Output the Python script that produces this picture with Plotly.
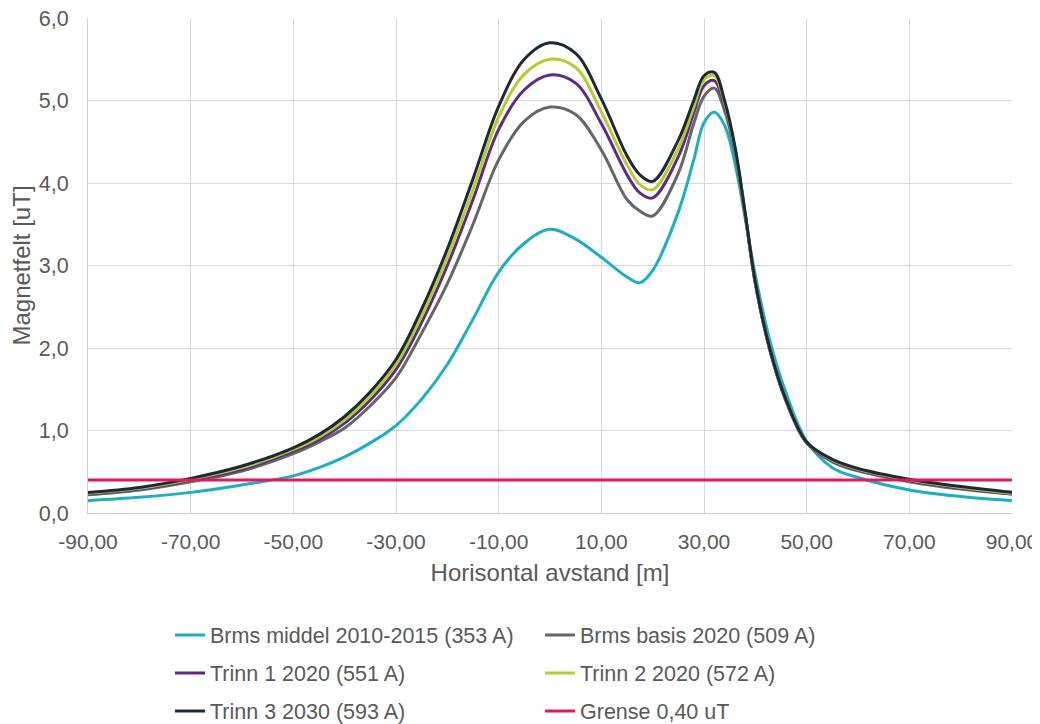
import plotly.graph_objects as go

# Horizontal distance [m]
x_m = [-90, -80, -70, -60, -50, -45, -40, -35, -30, -25, -20, -15, -10, -5, 0, 5, 10, 15, 17.5, 20, 25,
       28, 30, 32, 34, 36, 38, 40, 43, 46, 50, 55, 60, 70, 80, 90]

brms_middel = [0.15, 0.19, 0.25, 0.34, 0.45, 0.55, 0.68, 0.85, 1.06, 1.38, 1.80, 2.35, 2.92, 3.27, 3.44,
               3.32, 3.10, 2.86, 2.79, 2.94, 3.65, 4.28, 4.73, 4.86, 4.70, 4.25, 3.58, 2.88, 2.05, 1.45, 0.87,
               0.55, 0.43, 0.28, 0.20, 0.15]
brms_basis = [0.22, 0.28, 0.38, 0.51, 0.72, 0.86, 1.03, 1.30, 1.64, 2.18, 2.78, 3.50, 4.28, 4.75, 4.92,
              4.83, 4.40, 3.80, 3.66, 3.60, 4.12, 4.72, 5.05, 5.15, 4.88, 4.38, 3.62, 2.78, 1.93, 1.35, 0.85,
              0.62, 0.51, 0.38, 0.29, 0.23]
trinn1 = [0.23, 0.29, 0.40, 0.53, 0.75, 0.89, 1.09, 1.37, 1.74, 2.31, 3.00, 3.80, 4.65, 5.13, 5.31,
          5.21, 4.72, 4.10, 3.88, 3.82, 4.32, 4.85, 5.18, 5.24, 4.93, 4.42, 3.63, 2.79, 1.94, 1.36, 0.85,
          0.63, 0.52, 0.39, 0.30, 0.23]
trinn2 = [0.24, 0.30, 0.41, 0.55, 0.77, 0.92, 1.13, 1.42, 1.80, 2.39, 3.10, 3.92, 4.80, 5.32, 5.50,
          5.40, 4.86, 4.22, 3.98, 3.92, 4.42, 4.92, 5.25, 5.30, 4.97, 4.43, 3.64, 2.80, 1.95, 1.37, 0.86,
          0.64, 0.53, 0.40, 0.31, 0.24]
trinn3 = [0.25, 0.31, 0.42, 0.57, 0.79, 0.95, 1.17, 1.47, 1.86, 2.47, 3.20, 4.05, 4.93, 5.50, 5.70,
          5.57, 5.02, 4.33, 4.10, 4.02, 4.52, 5.00, 5.30, 5.34, 5.00, 4.45, 3.65, 2.80, 1.95, 1.37, 0.86,
          0.65, 0.54, 0.41, 0.32, 0.25]

grense_x = [-90, 90]
grense_y = [0.40, 0.40]

x_ticks = [-90, -70, -50, -30, -10, 10, 30, 50, 70, 90]
x_ticktext = ["-90,00", "-70,00", "-50,00", "-30,00", "-10,00", "10,00", "30,00", "50,00", "70,00", "90,00"]
y_ticks = [0, 1, 2, 3, 4, 5, 6]
y_ticktext = ["0,0", "1,0", "2,0", "3,0", "4,0", "5,0", "6,0"]

FONT = "Liberation Sans"
TXT = "#595959"

series = [
    ("Brms middel 2010-2015 (353 A)", x_m, brms_middel, "#1AAFC2", "legend"),
    ("Brms basis 2020 (509 A)", x_m, brms_basis, "#63666A", "legend"),
    ("Trinn 1 2020 (551 A)", x_m, trinn1, "#5E2A86", "legend2"),
    ("Trinn 2 2020 (572 A)", x_m, trinn2, "#B3CD2E", "legend2"),
    ("Trinn 3 2030 (593 A)", x_m, trinn3, "#1C2A38", "legend3"),
    ("Grense 0,40 uT", grense_x, grense_y, "#E3185C", "legend3"),
]

fig = go.Figure()
for name, xs, ys, col, lg in series:
    fig.add_trace(go.Scatter(
        x=xs, y=ys, name=name, mode="lines",
        line=dict(color=col, width=3, shape="spline" if len(xs) > 2 else "linear", smoothing=1.0),
        legend=lg,
    ))

# The page body adds an 8 px offset; figure coordinates = screen - 8
OFF = 8
W, H = 1040 - OFF, 724 - OFF
PLOT_TOP, PLOT_BOT, PLOT_L, PLOT_R = 18 - OFF, 513 - OFF, 88 - OFF, 1012 - OFF
paper_h = PLOT_BOT - PLOT_TOP


def ypos(py_screen):
    return (PLOT_BOT - (py_screen - OFF)) / paper_h


lx = 82 / (PLOT_R - PLOT_L)
leg_common = dict(orientation="h", xanchor="left", yanchor="middle", entrywidth=325,
                  font=dict(family=FONT, size=21.5, color=TXT), bgcolor="rgba(0,0,0,0)")

fig.update_layout(
    width=W, height=H,
    margin=dict(l=PLOT_L, r=W - PLOT_R, t=PLOT_TOP, b=H - PLOT_BOT, autoexpand=False),
    paper_bgcolor="white", plot_bgcolor="white",
    font=dict(family=FONT, size=21.5, color=TXT),
    showlegend=True,
    legend=dict(x=lx, y=ypos(635), **leg_common),
    legend2=dict(x=lx, y=ypos(673), **leg_common),
    legend3=dict(x=lx, y=ypos(711), **leg_common),
    xaxis=dict(
        range=[-90, 90], tickvals=x_ticks, ticktext=x_ticktext, automargin=False,
        showgrid=True, gridcolor="#D9D9D9", gridwidth=1,
        showline=True, linecolor="#CFCFCF", linewidth=1, zeroline=False,
        tickfont=dict(family=FONT, size=21, color=TXT), ticklabelstandoff=10,
        ticklabeloverflow="allow",
        title=dict(text="Horisontal avstand [m]", font=dict(family=FONT, size=24, color=TXT), standoff=11),
    ),
    yaxis=dict(
        range=[0, 6], tickvals=y_ticks, ticktext=y_ticktext, automargin=False,
        showgrid=True, gridcolor="#D9D9D9", gridwidth=1,
        showline=True, linecolor="#CFCFCF", linewidth=1, zeroline=False,
        tickfont=dict(family=FONT, size=21.5, color=TXT), ticklabelstandoff=14,
        ticklabeloverflow="allow",
        title=dict(text="Magnetfelt [uT]", font=dict(family=FONT, size=24, color=TXT), standoff=7),
    ),
)

fig.write_html("out.html")
